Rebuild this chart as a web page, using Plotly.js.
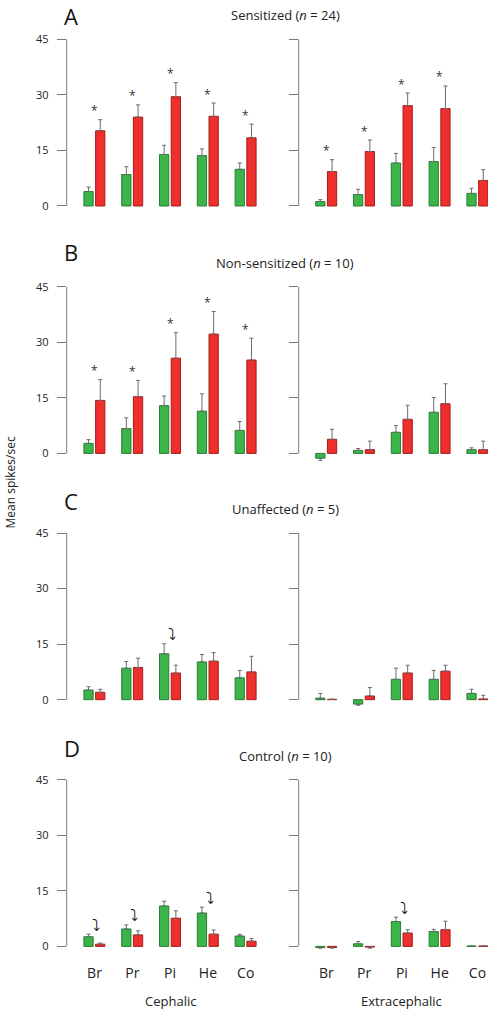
<!DOCTYPE html>
<html>
<head>
<meta charset="utf-8">
<script src="https://cdn.plot.ly/plotly-3.0.1.min.js"></script>
<style>
html,body{margin:0;padding:0;background:#fff;}
#chart{width:488px;height:1013px;}
</style>
</head>
<body>
<div id="chart"></div>
<script>
// ---------- DATA ----------
const categories = ['Br', 'Pr', 'Pi', 'He', 'Co'];
const yTicks = [0, 15, 30, 45];
const panelLetters = ['A', 'B', 'C', 'D'];
const panelTitles = ['Sensitized (<i>n</i> = 24)', 'Non-sensitized (<i>n</i> = 10)', 'Unaffected (<i>n</i> = 5)', 'Control (<i>n</i> = 10)'];
const regionTitles = ['Cephalic', 'Extracephalic'];

// A: Sensitized
const sensCephGreen    = [3.9, 8.5, 13.9, 13.6, 9.9];
const sensCephGreenErr = [1.2, 2.1, 2.5, 1.8, 1.7];
const sensCephRed      = [20.3, 24.0, 29.5, 24.2, 18.4];
const sensCephRedErr   = [3.0, 3.3, 3.8, 3.6, 3.7];
const sensCephStars    = [1, 1, 1, 1, 1];
const sensCephArrows   = [0, 0, 0, 0, 0];
const sensExtraGreen    = [1.2, 3.1, 11.6, 12.0, 3.4];
const sensExtraGreenErr = [0.5, 1.4, 2.6, 3.8, 1.4];
const sensExtraRed      = [9.3, 14.7, 27.1, 26.3, 6.9];
const sensExtraRedErr   = [3.2, 3.1, 3.4, 6.1, 2.9];
const sensExtraStars    = [1, 1, 1, 1, 0];
const sensExtraArrows   = [0, 0, 0, 0, 0];

// B: Non-sensitized
const nonCephGreen    = [2.7, 6.7, 12.9, 11.4, 6.2];
const nonCephGreenErr = [1.0, 2.9, 2.6, 4.7, 2.4];
const nonCephRed      = [14.3, 15.3, 25.7, 32.2, 25.2];
const nonCephRedErr   = [5.6, 4.4, 6.9, 6.1, 5.9];
const nonCephStars    = [1, 1, 1, 1, 1];
const nonCephArrows   = [0, 0, 0, 0, 0];
const nonExtraGreen    = [-1.3, 0.8, 5.7, 11.1, 1.0];
const nonExtraGreenErr = [0.6, 0.5, 1.8, 4.0, 0.5];
const nonExtraRed      = [3.8, 1.0, 9.2, 13.4, 1.0];
const nonExtraRedErr   = [2.7, 2.3, 3.8, 5.4, 2.3];
const nonExtraStars    = [0, 0, 0, 0, 0];
const nonExtraArrows   = [0, 0, 0, 0, 0];

// C: Unaffected
const unCephGreen    = [2.6, 8.5, 12.4, 10.2, 5.9];
const unCephGreenErr = [0.9, 1.8, 2.7, 2.0, 2.0];
const unCephRed      = [2.0, 8.7, 7.2, 10.4, 7.5];
const unCephRedErr   = [0.8, 2.5, 2.1, 2.3, 4.2];
const unCephStars    = [0, 0, 0, 0, 0];
const unCephArrows   = [0, 0, 1, 0, 0];
const unExtraGreen    = [0.4, -1.2, 5.5, 5.5, 1.7];
const unExtraGreenErr = [1.3, 0.3, 3.0, 2.4, 1.1];
const unExtraRed      = [0.1, 1.0, 7.2, 7.7, 0.2];
const unExtraRedErr   = [0.0, 2.3, 2.1, 1.6, 1.0];
const unExtraStars    = [0, 0, 0, 0, 0];
const unExtraArrows   = [0, 0, 0, 0, 0];

// D: Control
const ctrlCephGreen    = [2.6, 4.7, 10.9, 9.0, 2.8];
const ctrlCephGreenErr = [0.7, 1.1, 1.3, 1.6, 0.45];
const ctrlCephRed      = [0.6, 3.1, 7.6, 3.3, 1.4];
const ctrlCephRedErr   = [0.3, 1.1, 2.0, 1.1, 0.7];
const ctrlCephStars    = [0, 0, 0, 0, 0];
const ctrlCephArrows   = [1, 1, 0, 1, 0];
const ctrlExtraGreen    = [-0.3, 0.7, 6.7, 4.0, 0.1];
const ctrlExtraGreenErr = [0.2, 0.6, 1.2, 0.6, 0.0];
const ctrlExtraRed      = [-0.3, -0.2, 3.6, 4.5, 0.1];
const ctrlExtraRedErr   = [0.2, 0.3, 0.9, 2.3, 0.0];
const ctrlExtraStars    = [0, 0, 0, 0, 0];
const ctrlExtraArrows   = [0, 0, 1, 0, 0];

const panels = [
  [[sensCephGreen, sensCephGreenErr, sensCephRed, sensCephRedErr, sensCephStars, sensCephArrows],
   [sensExtraGreen, sensExtraGreenErr, sensExtraRed, sensExtraRedErr, sensExtraStars, sensExtraArrows]],
  [[nonCephGreen, nonCephGreenErr, nonCephRed, nonCephRedErr, nonCephStars, nonCephArrows],
   [nonExtraGreen, nonExtraGreenErr, nonExtraRed, nonExtraRedErr, nonExtraStars, nonExtraArrows]],
  [[unCephGreen, unCephGreenErr, unCephRed, unCephRedErr, unCephStars, unCephArrows],
   [unExtraGreen, unExtraGreenErr, unExtraRed, unExtraRedErr, unExtraStars, unExtraArrows]],
  [[ctrlCephGreen, ctrlCephGreenErr, ctrlCephRed, ctrlCephRedErr, ctrlCephStars, ctrlCephArrows],
   [ctrlExtraGreen, ctrlExtraGreenErr, ctrlExtraRed, ctrlExtraRedErr, ctrlExtraStars, ctrlExtraArrows]]
];

// ---------- LAYOUT GEOMETRY ----------
const W = 488, H = 1013;
const FONT = '"Open Sans", "Noto Sans", sans-serif';
const GREEN = '#3bb54a', GREEN_LINE = '#2a7d33';
const RED = '#ee2f2c', RED_LINE = '#a41d1d';
const AXIS = '#7a7a7a';
const rowTop = [39.3, 286.7, 533, 779.7];   // pixel row of value 45
const pxPerUnit = 3.704;
const yMin = -3, yMax = 45;
const colPx = [[66.7, 273.3], [298.7, 488]];
const xRanges = [[-0.735, 4.73], [-0.73, 4.278]];
const letterTop = [0, 236, 485, 732];

const idx = categories.map((c, i) => i);
const traces = [];
const layout = {
  width: W, height: H,
  margin: {l: 0, r: 0, t: 0, b: 0},
  paper_bgcolor: '#fff', plot_bgcolor: 'rgba(0,0,0,0)',
  showlegend: false,
  barmode: 'overlay',
  font: {family: FONT, size: 12, color: '#222'},
  annotations: [], shapes: []
};

function errArrays(vals, errs) {
  return {
    type: 'data', symmetric: false,
    array: vals.map((v, i) => v >= 0 ? errs[i] : 0),
    arrayminus: vals.map((v, i) => v < 0 ? errs[i] : 0),
    color: '#6b6b6b', thickness: 1, width: 2
  };
}

for (let r = 0; r < 4; r++) {
  const top = rowTop[r];
  const bottom = top + (yMax - yMin) * pxPerUnit;
  for (let c = 0; c < 2; c++) {
    const n = r * 2 + c + 1;
    const xa = 'x' + (n === 1 ? '' : n), ya = 'y' + (n === 1 ? '' : n);
    const xk = 'xaxis' + (n === 1 ? '' : n), yk = 'yaxis' + (n === 1 ? '' : n);
    const [g, ge, rd, re, stars, arrows] = panels[r][c];

    layout[xk] = {
      domain: [colPx[c][0] / W, colPx[c][1] / W],
      range: xRanges[c], anchor: ya,
      showline: false, zeroline: false, showgrid: false, ticks: '',
      tickmode: 'array', tickvals: idx, ticktext: categories,
      showticklabels: r === 3,
      tickfont: {family: FONT, size: 14, color: '#222'},
      ticklabelstandoff: 6,
      fixedrange: true
    };
    layout[yk] = {
      domain: [1 - bottom / H, 1 - top / H],
      range: [yMin, yMax], anchor: xa,
      showline: false, zeroline: false, showgrid: false,
      ticks: 'outside', ticklen: 9, tickwidth: 1, tickcolor: AXIS,
      tickmode: 'array', tickvals: yTicks, ticktext: yTicks.map(String),
      showticklabels: c === 0,
      tickfont: {family: FONT, size: 11, color: '#222'},
      ticklabelstandoff: 6,
      fixedrange: true
    };
    // axis spine from 0 to 45
    layout.shapes.push({
      type: 'line', xref: xa + ' domain', yref: ya,
      x0: 0, x1: 0, y0: 0, y1: 45,
      line: {color: AXIS, width: 1}
    });

    traces.push({
      type: 'bar', x: idx, y: g, xaxis: xa, yaxis: ya,
      width: 0.245, offset: -0.28,
      marker: {color: GREEN, line: {color: GREEN_LINE, width: 1}},
      error_y: errArrays(g, ge), hoverinfo: 'y'
    });
    traces.push({
      type: 'bar', x: idx, y: rd, xaxis: xa, yaxis: ya,
      width: 0.245, offset: 0.03,
      marker: {color: RED, line: {color: RED_LINE, width: 1}},
      error_y: errArrays(rd, re), hoverinfo: 'y'
    });

    idx.forEach(i => {
      if (stars[i]) {
        layout.annotations.push({
          xref: xa, yref: ya, x: i, y: rd[i] + re[i],
          text: '*', showarrow: false, yanchor: 'middle', xanchor: 'center',
          yshift: 9, font: {family: FONT, size: 12, color: '#333'}
        });
      }
      if (arrows[i]) {
        layout.annotations.push({
          xref: xa, yref: ya, x: i + 0.05, y: g[i] + ge[i],
          text: '\u2935\uFE0E', showarrow: false, yanchor: 'middle', xanchor: 'center',
          yshift: 9, font: {family: '"DejaVu Sans", sans-serif', size: 16, color: '#111'}
        });
      }
    });
  }
  // panel title
  layout.annotations.push({
    xref: 'paper', yref: 'paper', x: 285 / W, y: 1 - (top - 24) / H,
    text: panelTitles[r], showarrow: false, xanchor: 'center', yanchor: 'middle',
    font: {family: FONT, size: 13, color: '#222'}
  });
  // panel letter
  layout.annotations.push({
    xref: 'paper', yref: 'paper', x: 63 / W, y: 1 - letterTop[r] / H,
    text: panelLetters[r], showarrow: false, xanchor: 'left', yanchor: 'top',
    borderpad: 0,
    font: {family: FONT, size: 22, color: '#111'}
  });
}

// region titles under bottom row
regionTitles.forEach((t, c) => {
  layout.annotations.push({
    xref: c === 0 ? 'x7' : 'x8', yref: 'paper', x: 2, y: 1 - 1001 / H,
    text: t, showarrow: false, xanchor: 'center', yanchor: 'middle',
    borderpad: 0,
    font: {family: FONT, size: 13, color: '#222'}
  });
});

// y-axis title
layout.annotations.push({
  xref: 'paper', yref: 'paper', x: 0, y: 1 - 483 / H,
  text: 'Mean spikes/sec', textangle: -90, showarrow: false,
  xanchor: 'left', yanchor: 'middle', borderpad: 0,
  font: {family: FONT, size: 12, color: '#222'}
});

Plotly.newPlot('chart', traces, layout, {displayModeBar: false, staticPlot: true});
</script>
</body>
</html>
